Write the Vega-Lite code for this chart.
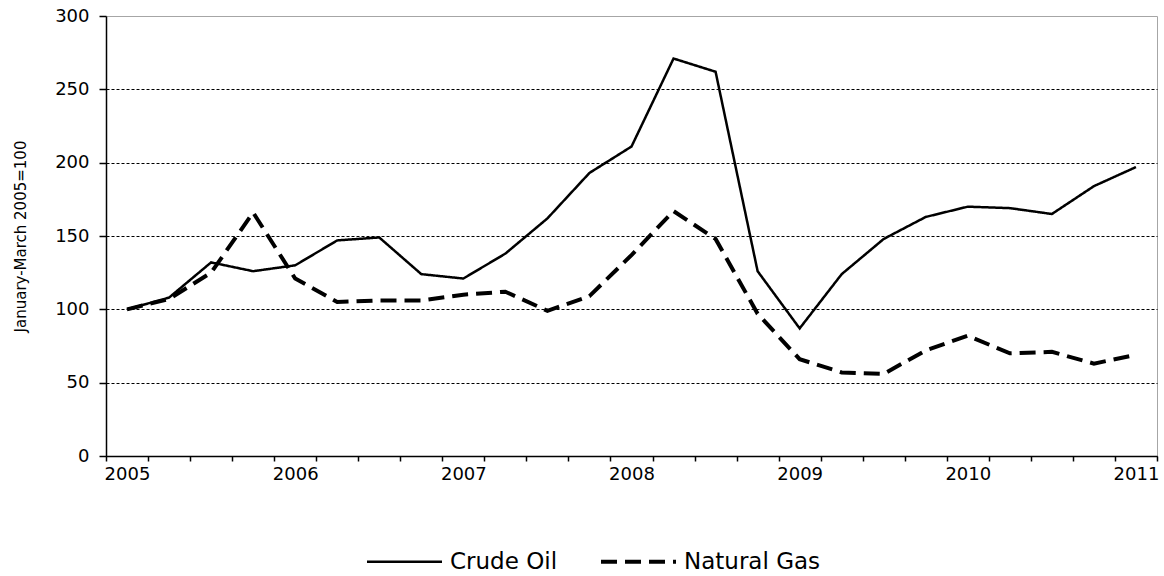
{
  "$schema": "https://vega.github.io/schema/vega-lite/v6.json",
  "width": 1051,
  "height": 440,
  "autosize": {"type": "none"},
  "padding": {"left": 106, "top": 16, "right": 7, "bottom": 120},
  "background": "white",
  "config": {
    "view": {"stroke": "#a6a6a6", "strokeWidth": 1},
    "font": "DejaVu Sans"
  },
  "data": {
    "values": [
      {"period": "2005Q1", "series": "Crude Oil", "value": 100},
      {"period": "2005Q2", "series": "Crude Oil", "value": 108},
      {"period": "2005Q3", "series": "Crude Oil", "value": 132},
      {"period": "2005Q4", "series": "Crude Oil", "value": 126},
      {"period": "2006Q1", "series": "Crude Oil", "value": 130},
      {"period": "2006Q2", "series": "Crude Oil", "value": 147},
      {"period": "2006Q3", "series": "Crude Oil", "value": 149},
      {"period": "2006Q4", "series": "Crude Oil", "value": 124},
      {"period": "2007Q1", "series": "Crude Oil", "value": 121},
      {"period": "2007Q2", "series": "Crude Oil", "value": 138},
      {"period": "2007Q3", "series": "Crude Oil", "value": 162},
      {"period": "2007Q4", "series": "Crude Oil", "value": 193},
      {"period": "2008Q1", "series": "Crude Oil", "value": 211},
      {"period": "2008Q2", "series": "Crude Oil", "value": 271},
      {"period": "2008Q3", "series": "Crude Oil", "value": 262},
      {"period": "2008Q4", "series": "Crude Oil", "value": 126},
      {"period": "2009Q1", "series": "Crude Oil", "value": 87},
      {"period": "2009Q2", "series": "Crude Oil", "value": 124},
      {"period": "2009Q3", "series": "Crude Oil", "value": 148},
      {"period": "2009Q4", "series": "Crude Oil", "value": 163},
      {"period": "2010Q1", "series": "Crude Oil", "value": 170},
      {"period": "2010Q2", "series": "Crude Oil", "value": 169},
      {"period": "2010Q3", "series": "Crude Oil", "value": 165},
      {"period": "2010Q4", "series": "Crude Oil", "value": 184},
      {"period": "2011Q1", "series": "Crude Oil", "value": 197},
      {"period": "2005Q1", "series": "Natural Gas", "value": 100},
      {"period": "2005Q2", "series": "Natural Gas", "value": 107},
      {"period": "2005Q3", "series": "Natural Gas", "value": 125},
      {"period": "2005Q4", "series": "Natural Gas", "value": 166},
      {"period": "2006Q1", "series": "Natural Gas", "value": 121},
      {"period": "2006Q2", "series": "Natural Gas", "value": 105},
      {"period": "2006Q3", "series": "Natural Gas", "value": 106},
      {"period": "2006Q4", "series": "Natural Gas", "value": 106},
      {"period": "2007Q1", "series": "Natural Gas", "value": 110},
      {"period": "2007Q2", "series": "Natural Gas", "value": 112},
      {"period": "2007Q3", "series": "Natural Gas", "value": 99},
      {"period": "2007Q4", "series": "Natural Gas", "value": 109},
      {"period": "2008Q1", "series": "Natural Gas", "value": 137},
      {"period": "2008Q2", "series": "Natural Gas", "value": 167},
      {"period": "2008Q3", "series": "Natural Gas", "value": 148},
      {"period": "2008Q4", "series": "Natural Gas", "value": 97},
      {"period": "2009Q1", "series": "Natural Gas", "value": 66},
      {"period": "2009Q2", "series": "Natural Gas", "value": 57},
      {"period": "2009Q3", "series": "Natural Gas", "value": 56},
      {"period": "2009Q4", "series": "Natural Gas", "value": 72},
      {"period": "2010Q1", "series": "Natural Gas", "value": 82},
      {"period": "2010Q2", "series": "Natural Gas", "value": 70},
      {"period": "2010Q3", "series": "Natural Gas", "value": 71},
      {"period": "2010Q4", "series": "Natural Gas", "value": 63},
      {"period": "2011Q1", "series": "Natural Gas", "value": 69}
    ]
  },
  "encoding": {
    "x": {
      "field": "period",
      "type": "ordinal",
      "scale": {"type": "band", "paddingInner": 0, "paddingOuter": 0},
      "axis": {
        "title": null,
        "tickBand": "extent",
        "labelExpr": "indexof(datum.label, 'Q1') >= 0 ? slice(datum.label, 0, 4) : ''",
        "labelAngle": 0,
        "labelFontSize": 18,
        "labelColor": "black",
        "labelFont": "DejaVu Sans",
        "tickSize": 5,
        "tickColor": "black",
        "tickWidth": 1.5,
        "domainColor": "black",
        "domainWidth": 1.5,
        "labelPadding": 4,
        "grid": false
      }
    },
    "y": {
      "field": "value",
      "type": "quantitative",
      "scale": {"domain": [0, 300], "nice": false},
      "axis": {
        "title": "January-March 2005=100",
        "values": [0, 50, 100, 150, 200, 250, 300],
        "titleFontSize": 15,
        "titleFontWeight": "normal",
        "titleFont": "DejaVu Sans",
        "titleColor": "black",
        "titlePadding": 26,
        "labelFontSize": 18,
        "labelColor": "black",
        "labelFont": "DejaVu Sans",
        "tickSize": 7,
        "tickColor": "black",
        "tickWidth": 1.5,
        "labelPadding": 10,
        "domainColor": "black",
        "domainWidth": 1.5,
        "grid": true,
        "gridColor": "black",
        "gridOpacity": {"condition": {"test": "datum.value >= 300", "value": 0}, "value": 1},
        "gridDash": [3, 2],
        "gridWidth": 1
      }
    },
    "strokeDash": {
      "field": "series",
      "type": "nominal",
      "scale": {"domain": ["Crude Oil", "Natural Gas"], "range": [[1, 0], [16, 8]]},
      "legend": {
        "orient": "none",
        "legendX": 287,
        "legendY": 534,
        "direction": "horizontal",
        "title": null,
        "labelFontSize": 23,
        "labelColor": "black",
        "labelFont": "DejaVu Sans",
        "symbolSize": 5625,
        "symbolType": "stroke",
        "symbolStrokeColor": "black",
        "symbolStrokeWidth": 3,
        "labelOffset": 34,
        "columnPadding": 35,
        "padding": 0,
        "encode": {
          "symbols": {
            "update": {
              "strokeWidth": {"signal": "datum.value == 'Natural Gas' ? 4 : 2.5"}
            }
          }
        }
      }
    }
  },
  "layer": [
    {
      "transform": [{"filter": "datum.series == 'Crude Oil'"}],
      "mark": {"type": "line", "color": "black", "strokeWidth": 2.5}
    },
    {
      "transform": [{"filter": "datum.series == 'Natural Gas'"}],
      "mark": {"type": "line", "color": "black", "strokeWidth": 4}
    }
  ]
}
